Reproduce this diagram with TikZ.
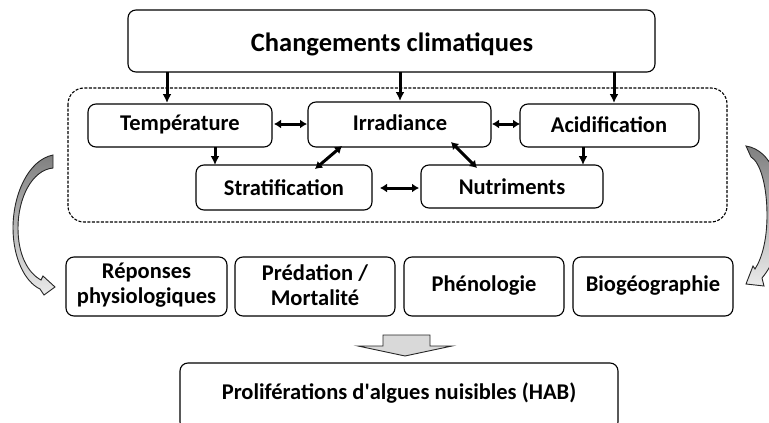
\documentclass[tikz,border=0pt]{standalone}
\usepackage{fontspec}
\setmainfont{Carlito}
\usetikzlibrary{arrows.meta}
\begin{document}
\begin{tikzpicture}[x=1pt,y=-1pt,
  box/.style={draw=black, line width=1.1pt, rounded corners=8pt, fill=white},
  lbl/.style={font=\bfseries\fontsize{22.5}{25}\selectfont, align=center},
  conn/.style={line width=3pt, -{Latex[length=9pt,width=9pt]}},
  dconn/.style={line width=3pt, {Latex[length=7pt,width=9pt]}-{Latex[length=7pt,width=9pt]}},
  fat/.style={draw=black!85, line width=0.9pt, top color=black!50, bottom color=black!8},
]
\useasboundingbox (0,0) rectangle (769,423);
\begin{scope}
\clip (0,0) rectangle (769,423);
% top box
\draw[box] (128,10) rectangle (655,72);
\node[lbl, font=\bfseries\fontsize{26.5}{30}\selectfont] (cc) at (392,44) {Changements climatiques};
% dashed container
\draw[line width=1.1pt, dash pattern=on 3pt off 1.5pt, rounded corners=16pt] (68,88) rectangle (727,222);
% inner boxes
\draw[box] (88,104) rectangle (272,147);
\node[lbl] (temp) at (180,125) {Température};
\draw[box] (308,102) rectangle (491,147);
\node[lbl] (irr) at (400,123) {Irradiance};
\draw[box] (520,104) rectangle (699,147);
\node[lbl] (acid) at (609,125) {Acidification};
\draw[box] (196,165) rectangle (372,210);
\node[lbl] (strat) at (284,188) {Stratification};
\draw[box] (421,165) rectangle (603,208);
\node[lbl] (nut) at (512,187) {Nutriments};
% arrows from top box
\coordinate (a1s) at (167,72); \coordinate (a1e) at (167,103);
\coordinate (a2s) at (400,72); \coordinate (a2e) at (400,101);
\coordinate (a3s) at (614,72); \coordinate (a3e) at (614,103);
\draw[conn] (a1s) -- (a1e);
\draw[conn] (a2s) -- (a2e);
\draw[conn] (a3s) -- (a3e);
% horizontal double arrows
\coordinate (ti1) at (274,124); \coordinate (ti2) at (307,124);
\draw[dconn] (ti1) -- (ti2);
\coordinate (ia1) at (492,124); \coordinate (ia2) at (520,124);
\draw[dconn] (ia1) -- (ia2);
\coordinate (sn1) at (380,188); \coordinate (sn2) at (419,188);
\draw[dconn] (sn1) -- (sn2);
% diagonal double arrows
\coordinate (is1) at (342,146); \coordinate (is2) at (315,169);
\draw[dconn] (is1) -- (is2);
\coordinate (in1) at (451,142); \coordinate (in2) at (477,168);
\draw[dconn] (in1) -- (in2);
% down arrows
\coordinate (ts1) at (215,147); \coordinate (ts2) at (215,165);
\draw[conn] (ts1) -- (ts2);
\coordinate (an1) at (583,147); \coordinate (an2) at (583,165);
\draw[conn] (an1) -- (an2);
% effect boxes
\draw[box] (66,257) rectangle (227,316);
\node[lbl] (rep) at (146.5,285) {Réponses\\physiologiques};
\draw[box] (235,257) rectangle (395,316);
\node[lbl] (pred) at (315,285) {Prédation /\\Mortalité};
\draw[box] (404,257) rectangle (564,316);
\node[lbl] (phen) at (484,286) {Phénologie};
\draw[box] (573,257) rectangle (733,316);
\node[lbl] (bio) at (653,286) {Biogéographie};
% big down arrow
\draw[draw=black!85, line width=0.9pt, fill=black!15] (383,335) -- (430,335) -- (430,346) -- (452,346) -- (405,356) -- (358,346) -- (383,346) -- cycle;
% HAB box
\draw[box] (180,363) rectangle (618,430);
\node[lbl] (hab) at (399,393) {Proliférations d\textquotesingle algues nuisibles (HAB)};
% left curved arrow
\draw[fat] (53,155) .. controls (28,160) and (13,195) .. (13,228)
  .. controls (13,258) and (25,282) .. (40,289)
  -- (44,295) -- (55,287) -- (43,276) -- (41,280)
  .. controls (28,273) and (18,255) .. (18,228)
  .. controls (18,198) and (32,170) .. (53,168) -- cycle;
% right curved arrow
\draw[fat] (746,146) .. controls (772,150) and (783,185) .. (782,215)
  .. controls (781,245) and (773,265) .. (762,278)
  -- (764,286) -- (746,284) -- (753,266) -- (755,269)
  .. controls (762,258) and (767,240) .. (767,215)
  .. controls (767,185) and (760,162) .. (751,157) -- cycle;
\end{scope}
\end{tikzpicture}
\end{document}
